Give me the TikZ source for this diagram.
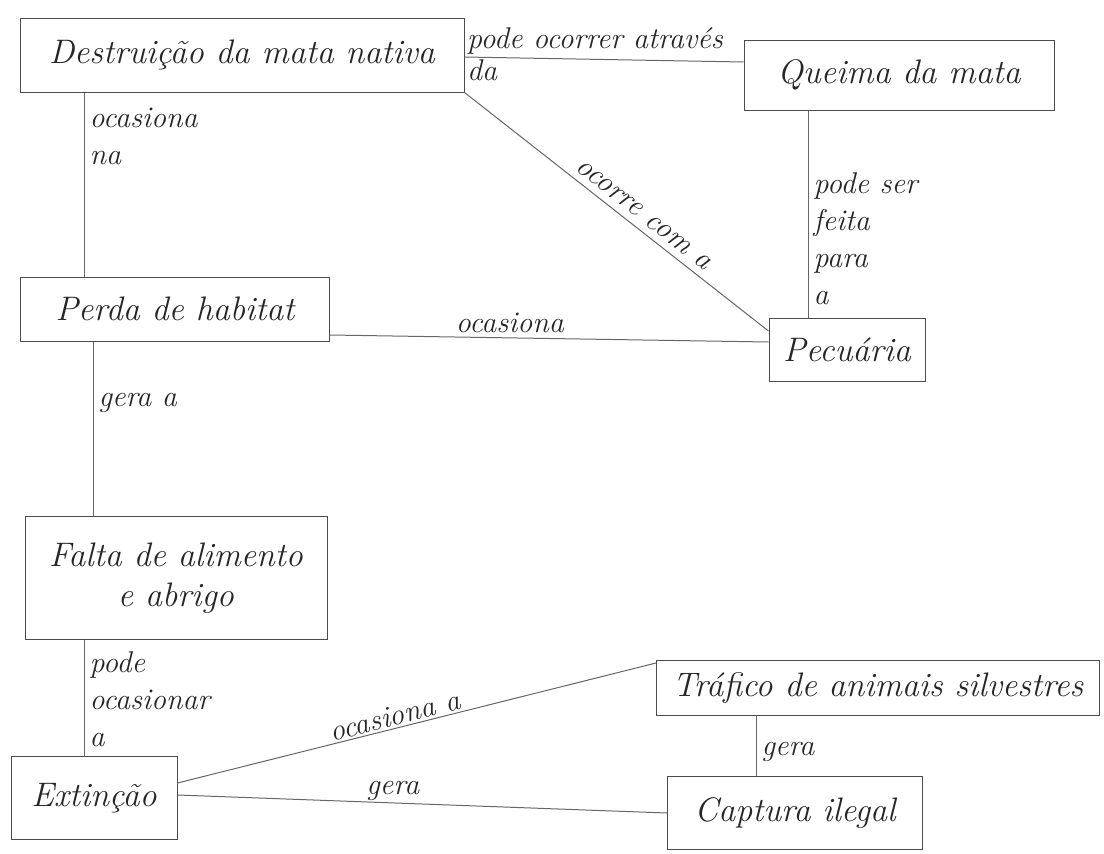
\documentclass[tikz,border=0pt]{standalone}
\begin{document}
\begin{tikzpicture}[x=1pt, y=-1pt, line width=1pt]
    \tikzstyle{cbox}=[draw=black!70, rectangle, inner sep=0pt, text=black!85, align=center, font=\fontsize{34}{40}\selectfont\itshape]
    \tikzstyle{lnk}=[draw=black!60]
    \tikzstyle{lbl}=[text=black!85, inner sep=5pt, align=left, font=\fontsize{30}{37}\selectfont\itshape]

    \useasboundingbox (0,0) rectangle (1104,854);

    % conceitos
    \node[cbox, minimum width=444pt, minimum height=74pt] (destr) at (242,55) {Destruição da mata nativa};
    \node[cbox, minimum width=310pt, minimum height=70pt] (queima) at (899,75) {Queima da mata};
    \node[cbox, minimum width=309pt, minimum height=64pt] (perda) at (175,309) {Perda de habitat};
    \node[cbox, minimum width=156pt, minimum height=63pt] (pecu) at (847,350) {Pecuária};
    \node[cbox, minimum width=302pt, minimum height=123pt] (falta) at (176,578) {Falta de alimento\\ e abrigo};
    \node[cbox, minimum width=166pt, minimum height=83pt] (ext) at (94,798) {Extinção};
    \node[cbox, minimum width=443pt, minimum height=55pt] (traf) at (878,688) {Tráfico de animais silvestres};
    \node[cbox, minimum width=255pt, minimum height=73pt] (capt) at (795,813) {Captura ilegal};

    % ligacoes
    \draw[lnk] ([yshift=-2pt]destr.east) -- ([yshift=13pt]queima.west)
        node[lbl, pos=0, anchor=south west, inner sep=2pt] {pode ocorrer através}
        node[lbl, pos=0, anchor=north west, inner sep=2pt] {da};
    \draw[lnk] ([xshift=-158pt]destr.south) -- ([xshift=-91pt]perda.north)
        node[lbl, pos=0.24, right] {ocasiona\\ na};
    \draw[lnk] (destr.south east) -- ([yshift=-13pt]pecu.north west)
        node[lbl, pos=0.56, sloped, above, inner sep=7pt] {ocorre com a};
    \draw[lnk] ([xshift=-91pt]queima.south) -- ([xshift=-39pt]pecu.north)
        node[lbl, pos=0.62, right] {pode ser\\ feita\\ para\\ a};
    \draw[lnk] ([yshift=-26pt]perda.east) -- ([yshift=8pt]pecu.west)
        node[lbl, pos=0.41, above] {ocasiona};
    \draw[lnk] ([xshift=-82pt]perda.south) -- ([xshift=-83pt]falta.north)
        node[lbl, pos=0.35, right] {gera a};
    \draw[lnk] ([xshift=-92pt]falta.south) -- ([xshift=-10pt]ext.north)
        node[lbl, pos=0.51, right] {pode\\ ocasionar\\ a};
    \draw[lnk] ([yshift=15pt]ext.east) -- ([yshift=25pt]traf.west)
        node[lbl, pos=0.46, sloped, above, inner sep=2pt] {ocasiona a};
    \draw[lnk] ([yshift=3pt]ext.east) -- (capt.west)
        node[lbl, pos=0.44, above, inner sep=2pt] {gera};
    \draw[lnk] ([xshift=-122pt]traf.south) -- ([xshift=-39pt]capt.north)
        node[lbl, pos=0.6, right] {gera};
\end{tikzpicture}
\end{document}
